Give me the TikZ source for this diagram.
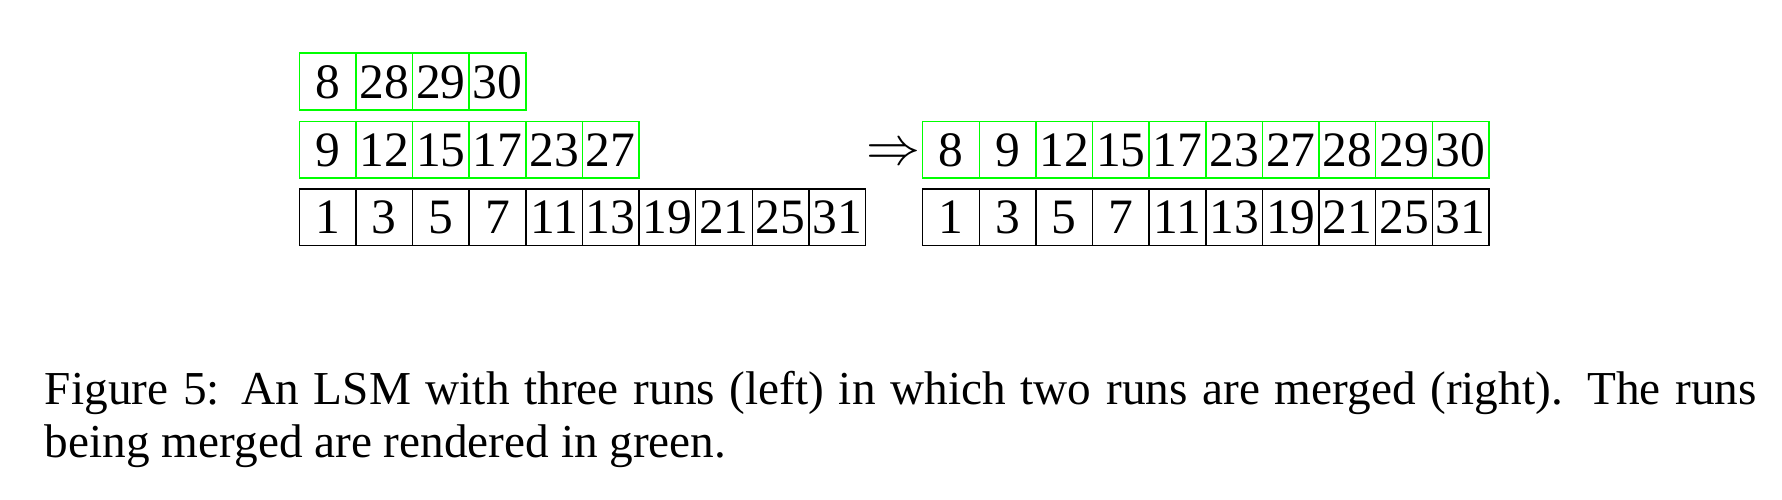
\documentclass[tikz,border=0pt]{standalone}
\usepackage{fontspec}
\setmainfont{Liberation Serif}
\usepackage{tikz}
\usetikzlibrary{positioning}

\tikzset{
    cell/.style={draw, line width=0.4pt, inner sep=0pt, outer sep=0pt,
        minimum width=15.1pt, text height=12pt, text depth=3.1pt,
        font=\fontsize{13.2}{16}\selectfont},
    run/.style={cell, draw=green}
}

\begin{document}
\begin{tikzpicture}
    \useasboundingbox (0pt,0pt) rectangle (475.2pt,-133.33pt);
    %\draw[help lines, step=10pt] (0pt,0pt) grid (475.2pt,-133.33pt);

    % left: three runs
    \node[run] (a1) at (87.35pt,-21.75pt) {8};
    \node[run, right=0pt of a1] (a2) {28};
    \node[run, right=0pt of a2] (a3) {29};
    \node[run, right=0pt of a3] (a4) {30};

    \node[run] (b1) at (87.35pt,-39.9pt) {9};
    \node[run, right=0pt of b1] (b2) {12};
    \node[run, right=0pt of b2] (b3) {15};
    \node[run, right=0pt of b3] (b4) {17};
    \node[run, right=0pt of b4] (b5) {23};
    \node[run, right=0pt of b5] (b6) {27};

    \node[cell] (c1) at (87.35pt,-57.95pt) {1};
    \node[cell, right=0pt of c1] (c2) {3};
    \node[cell, right=0pt of c2] (c3) {5};
    \node[cell, right=0pt of c3] (c4) {7};
    \node[cell, right=0pt of c4] (c5) {11};
    \node[cell, right=0pt of c5] (c6) {13};
    \node[cell, right=0pt of c6] (c7) {19};
    \node[cell, right=0pt of c7] (c8) {21};
    \node[cell, right=0pt of c8] (c9) {25};
    \node[cell, right=0pt of c9] (c10) {31};

    \node[inner sep=0pt, font=\fontsize{14.4}{17}\selectfont] (arr) at (238.2pt,-41.3pt) {$\Rightarrow$};

    % right: after the merge
    \node[run] (m1) at (253.6pt,-39.9pt) {8};
    \node[run, right=0pt of m1] (m2) {9};
    \node[run, right=0pt of m2] (m3) {12};
    \node[run, right=0pt of m3] (m4) {15};
    \node[run, right=0pt of m4] (m5) {17};
    \node[run, right=0pt of m5] (m6) {23};
    \node[run, right=0pt of m6] (m7) {27};
    \node[run, right=0pt of m7] (m8) {28};
    \node[run, right=0pt of m8] (m9) {29};
    \node[run, right=0pt of m9] (m10) {30};

    \node[cell] (r1) at (253.6pt,-57.95pt) {1};
    \node[cell, right=0pt of r1] (r2) {3};
    \node[cell, right=0pt of r2] (r3) {5};
    \node[cell, right=0pt of r3] (r4) {7};
    \node[cell, right=0pt of r4] (r5) {11};
    \node[cell, right=0pt of r5] (r6) {13};
    \node[cell, right=0pt of r6] (r7) {19};
    \node[cell, right=0pt of r7] (r8) {21};
    \node[cell, right=0pt of r8] (r9) {25};
    \node[cell, right=0pt of r9] (r10) {31};

    \node[anchor=north west, inner sep=0pt, text width=456.5pt, align=justify,
        font=\fontsize{12.6}{14.2}\selectfont] (cap) at (11.8pt,-98.8pt)
        {Figure 5: An LSM with three runs (left) in which two runs are merged (right). The runs\linebreak being merged are rendered in green.};
\end{tikzpicture}
\end{document}
